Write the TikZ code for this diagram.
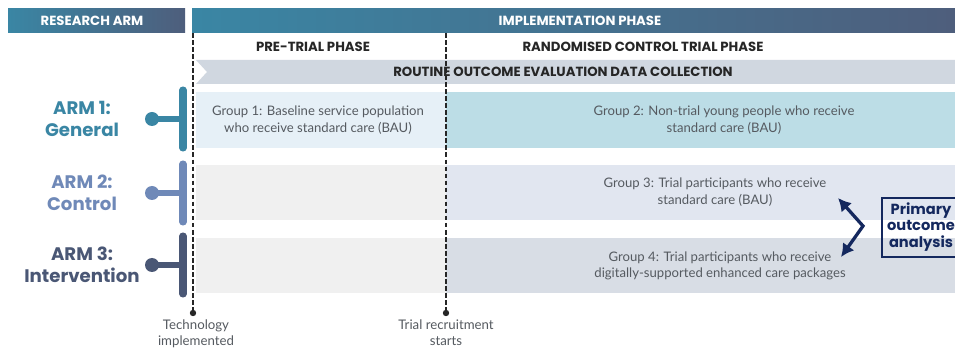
\documentclass[tikz,border=0pt]{standalone}
\usepackage{fontspec}
\setmainfont{Lato}
\newfontfamily\popfont{Poppins}
\usetikzlibrary{arrows.meta}

\definecolor{armone}{HTML}{3A86A4}
\definecolor{armtwo}{HTML}{6F89B8}
\definecolor{armthree}{HTML}{4A5775}
\definecolor{hdrdark}{HTML}{4E5E7C}
\definecolor{bandgrey}{HTML}{D0D7E0}
\definecolor{navyblue}{HTML}{14285E}
\definecolor{txtgrey}{HTML}{555A60}
\definecolor{preone}{HTML}{E6F0F7}
\definecolor{rctone}{HTML}{BCDDE6}
\definecolor{prerest}{HTML}{F0F0F0}
\definecolor{rcttwo}{HTML}{E1E6F0}
\definecolor{rctthree}{HTML}{D8DDE5}

\tikzset{
  hdrtext/.style={text=white, font=\popfont\bfseries\fontsize{11.3}{13}\selectfont},
  phasetext/.style={text=black!85, font=\popfont\bfseries\fontsize{11.3}{13}\selectfont},
  grouptext/.style={text=txtgrey, align=center, font=\fontsize{11.2}{14}\selectfont},
  armtext/.style={align=center, font=\popfont\bfseries\fontsize{15.5}{18.5}\selectfont},
  milestone/.style={black!85, line width=1.2pt, dash pattern=on 4pt off 2pt},
}

\begin{document}
\begin{tikzpicture}[x=0.03cm, y=-0.03cm]
    \clip (0,0) rectangle (955,348);
    \fill[white] (0,0) rectangle (955,348);

    % header bars
    \shade[left color=armone, right color=hdrdark] (8,9) rectangle (185,33);
    \node[hdrtext] (resarm) at (92,21) {RESEARCH ARM};
    \shade[left color=armone, right color=hdrdark] (192,9) rectangle (955,33);
    \node[hdrtext] (impl) at (580,21) {IMPLEMENTATION PHASE};

    % phase titles
    \node[phasetext] (pretrial) at (313,47) {PRE-TRIAL PHASE};
    \node[phasetext] (rct) at (643,47) {RANDOMISED CONTROL TRIAL PHASE};

    % routine data collection band
    \fill[bandgrey] (196,60) -- (955,60) -- (955,84) -- (196,84) -- (207,72) -- cycle;
    \node[phasetext] (routine) at (563,72) {ROUTINE OUTCOME EVALUATION DATA COLLECTION};

    % rows: pre-trial part then trial part
    \fill[preone] (196,92) rectangle (446,148);
    \fill[rctone] (446,92) rectangle (955,148);
    \fill[prerest] (196,165) rectangle (446,220);
    \fill[rcttwo] (446,165) rectangle (955,220);
    \fill[prerest] (196,238) rectangle (446,293);
    \fill[rctthree] (446,238) rectangle (955,293);

    \node[grouptext] (grp1) at (318,120) {Group 1: Baseline service population\\who receive standard care (BAU)};
    \node[grouptext] (grp2) at (724,120) {Group 2: Non-trial young people who receive\\standard care (BAU)};
    \node[grouptext] (grp3) at (715,192) {Group 3: Trial participants who receive\\standard care (BAU)};
    \node[grouptext] (grp4) at (720,266) {Group 4: Trial participants who receive\\digitally-supported enhanced care packages};

    % arms with bracket markers
    \foreach \n/\c/\y/\lbl in {1/armone/119/{ARM 1:\\General},
                               2/armtwo/193/{ARM 2:\\Control},
                               3/armthree/265/{ARM 3:\\Intervention}} {
      \node[armtext, text=\c] (arm\n) at (82,\y) {\lbl};
      \coordinate (knob\n) at (152,\y);
      \coordinate (bar\n) at (183,\y);
      \draw[\c, line width=6pt, line cap=round] ([yshift=-0.87cm]bar\n) -- ([yshift=0.87cm]bar\n);
      \draw[\c, line width=5pt] (knob\n) -- (bar\n);
      \fill[\c] (knob\n) circle (7);
    }

    % milestone lines
    \coordinate (techtop) at (193,33); \coordinate (techbot) at (193,313);
    \coordinate (recrtop) at (446,33); \coordinate (recrbot) at (446,313);
    \draw[milestone] (techtop) -- (techbot);
    \draw[milestone] (recrtop) -- (recrbot);
    \fill[black!85] (techbot) circle (3.2);
    \fill[black!85] (recrbot) circle (3.2);
    \node[grouptext, anchor=north, font=\fontsize{11.3}{13.5}\selectfont] (tech) at (196,316) {Technology\\implemented};
    \node[grouptext, anchor=north, font=\fontsize{11.3}{13.5}\selectfont] (recr) at (446,316) {Trial recruitment\\starts};

    % primary outcome analysis
    \draw[navyblue, line width=2pt] (882,198) rectangle (965,257);
    \node[text=navyblue, align=center, font=\popfont\bfseries\fontsize{12.5}{14}\selectfont] (primary) at (921,227) {Primary\\outcome\\analysis};
    \coordinate (tip3) at (838,198);
    \coordinate (elbow) at (863,226);
    \coordinate (tip4) at (841,257);
    \draw[navyblue, line width=2.8pt, {Latex[length=11pt,width=12pt]}-{Latex[length=11pt,width=12pt]}, line join=miter] (tip3) -- (elbow) -- (tip4);
\end{tikzpicture}
\end{document}
